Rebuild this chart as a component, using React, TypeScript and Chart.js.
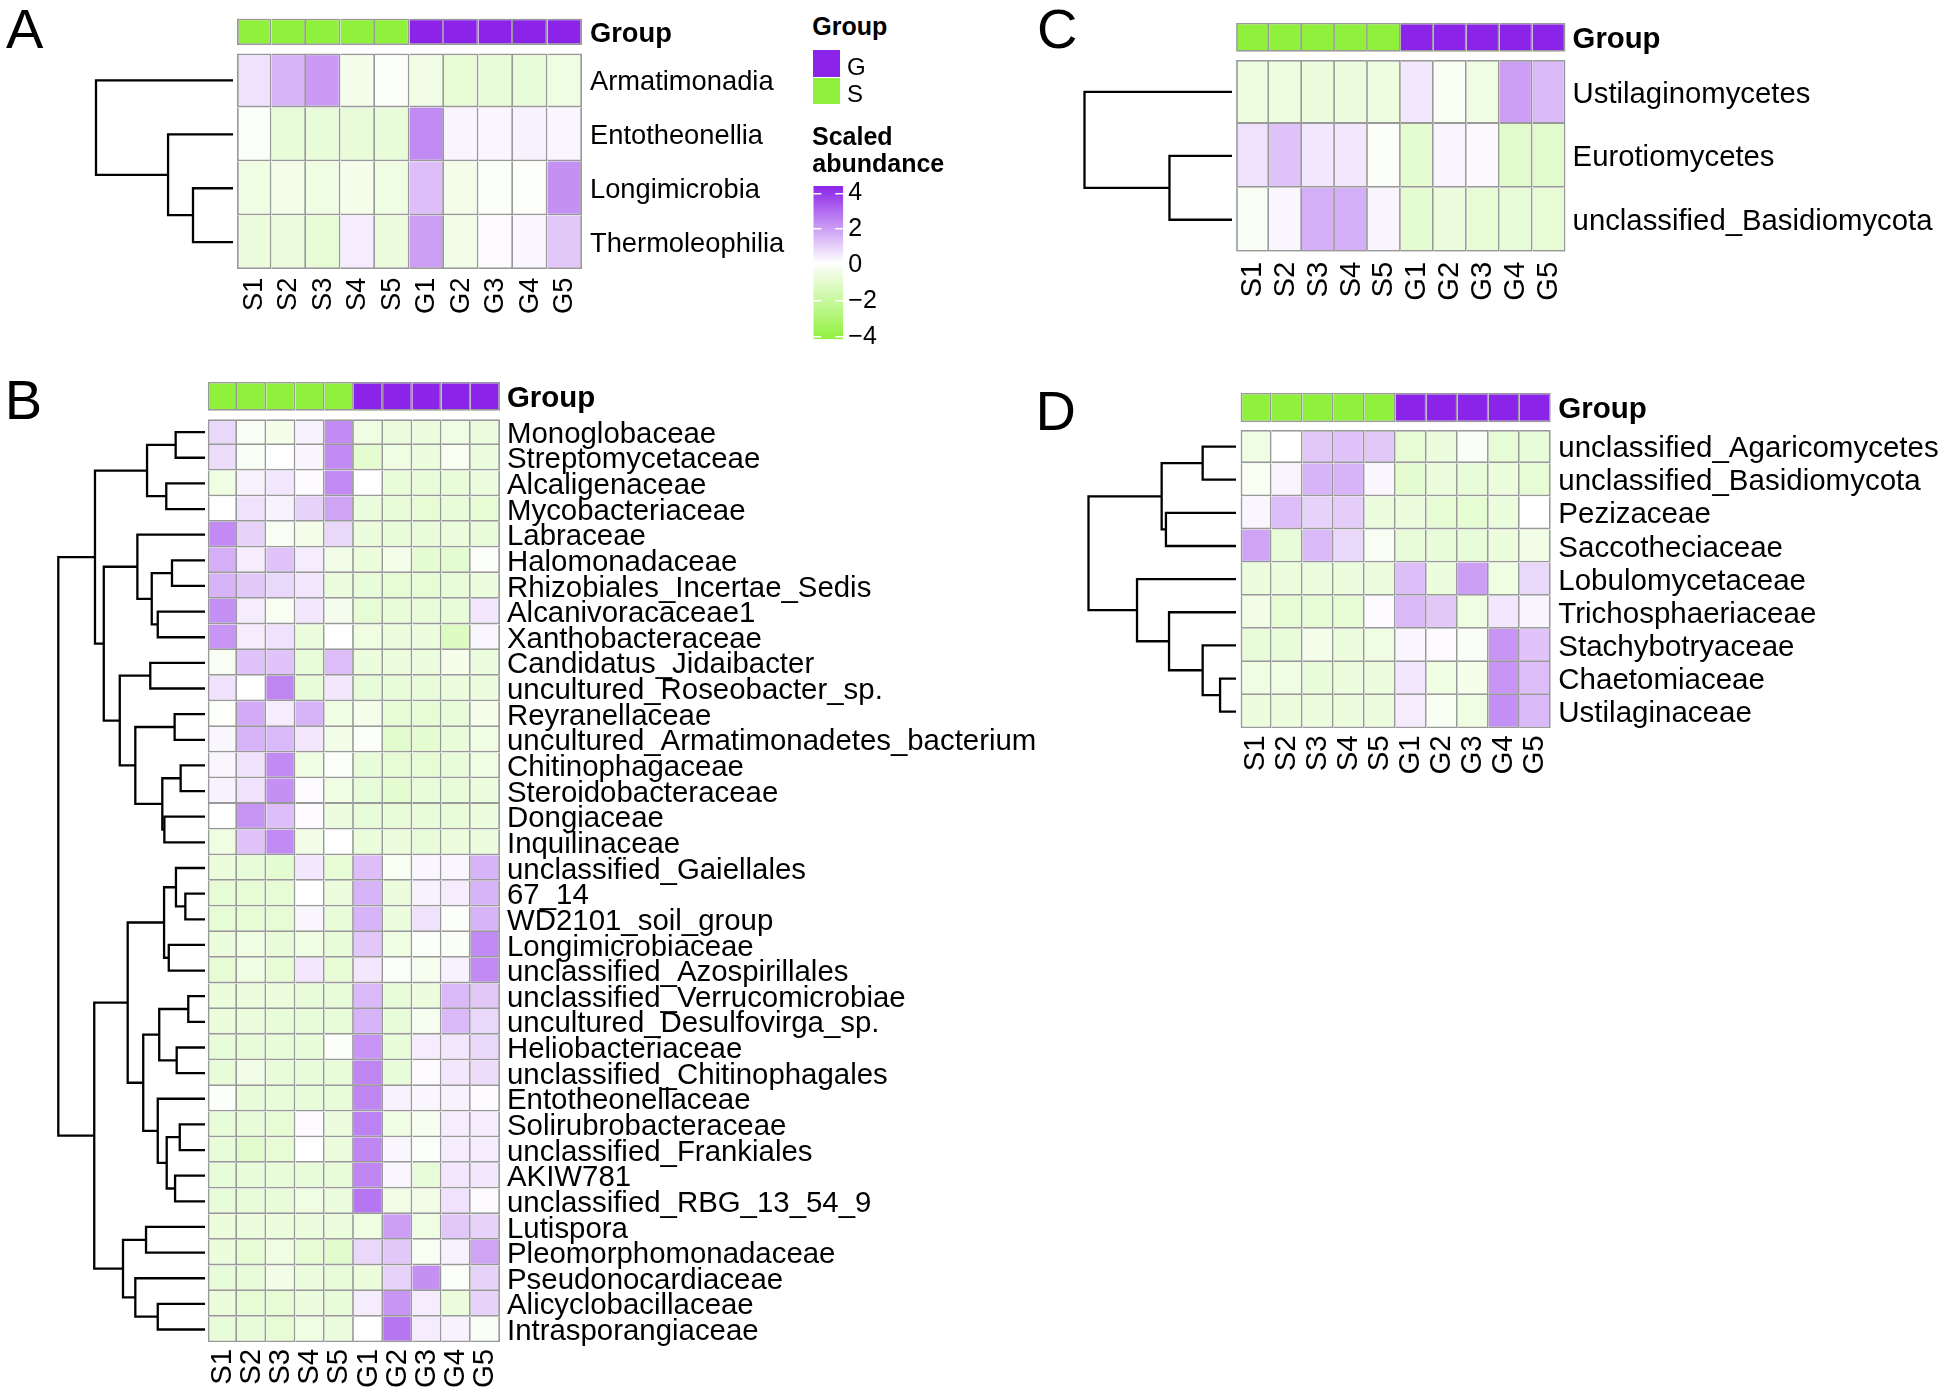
import React, { useEffect, useRef } from 'react';
import { Chart, registerables } from 'chart.js';

Chart.register(...registerables);

const FONT = "'Liberation Sans', Arial, Helvetica, sans-serif";

// ---------- data ----------
const sampleLabels = ['S1', 'S2', 'S3', 'S4', 'S5', 'G1', 'G2', 'G3', 'G4', 'G5'];
const sampleGroups = ['S', 'S', 'S', 'S', 'S', 'G', 'G', 'G', 'G', 'G'];
const groupLegend = ['G', 'S'];
const scaleRange = [-4.15, 4.41];
const legendTicks = [4, 2, 0, -2, -4];

const rowsA = ['Armatimonadia', 'Entotheonellia', 'Longimicrobia', 'Thermoleophilia'];
const valuesA = [
  [0.7, 1.6, 2.1, -0.3, 0.0, -0.4, -0.8, -0.7, -0.7, -0.5],
  [0.0, -0.7, -0.7, -0.7, -0.7, 2.4, 0.35, 0.3, 0.4, 0.3],
  [-0.5, -0.35, -0.5, -0.3, -0.5, 1.4, -0.35, 0.0, 0.05, 2.3],
  [-0.6, -0.6, -0.8, 0.5, -0.6, 2.0, -0.4, 0.2, 0.3, 1.2],
];
const treeA = [[-3, -4, 0.292], [-2, 1, 0.474], [-1, 2, 1.0]];

const rowsB = [
  'Monoglobaceae', 'Streptomycetaceae', 'Alcaligenaceae', 'Mycobacteriaceae', 'Labraceae',
  'Halomonadaceae', 'Rhizobiales_Incertae_Sedis', 'Alcanivoracaceae1', 'Xanthobacteraceae',
  'Candidatus_Jidaibacter', 'uncultured_Roseobacter_sp.', 'Reyranellaceae',
  'uncultured_Armatimonadetes_bacterium', 'Chitinophagaceae', 'Steroidobacteraceae', 'Dongiaceae',
  'Inquilinaceae', 'unclassified_Gaiellales', '67_14', 'WD2101_soil_group', 'Longimicrobiaceae',
  'unclassified_Azospirillales', 'unclassified_Verrucomicrobiae', 'uncultured_Desulfovirga_sp.',
  'Heliobacteriaceae', 'unclassified_Chitinophagales', 'Entotheonellaceae', 'Solirubrobacteraceae',
  'unclassified_Frankiales', 'AKIW781', 'unclassified_RBG_13_54_9', 'Lutispora',
  'Pleomorphomonadaceae', 'Pseudonocardiaceae', 'Alicyclobacillaceae', 'Intrasporangiaceae',
];
const valuesB = [
  [0.9, -0.1, -0.3, 0.4, 2.4, -0.5, -0.6, -0.6, -0.5, -0.6],
  [0.8, -0.1, 0.15, 0.35, 2.4, -0.9, -0.5, -0.6, -0.15, -0.6],
  [-0.5, 0.4, 0.6, 0.2, 2.4, 0.1, -0.7, -0.7, -0.7, -0.6],
  [0.15, 0.7, 0.4, 1.0, 1.9, -0.6, -0.7, -0.8, -0.7, -0.8],
  [2.4, 1.0, -0.1, -0.3, 0.9, -0.6, -0.7, -0.7, -0.6, -0.7],
  [1.7, 0.5, 1.3, 0.5, -0.4, -0.6, -0.3, -0.9, -0.9, 0.0],
  [1.6, 1.2, 0.9, 0.6, -0.6, -0.7, -0.8, -0.8, -0.7, -0.6],
  [2.3, 0.5, -0.15, 0.6, -0.25, -0.8, -0.7, -0.7, -0.7, 0.6],
  [2.2, 0.5, 0.7, -0.6, 0.15, -0.5, -0.6, -0.6, -1.2, 0.3],
  [-0.1, 1.3, 1.3, -0.7, 1.4, -0.6, -0.6, -0.6, -0.3, -0.6],
  [0.7, 0.15, 2.5, -0.7, 0.6, -0.7, -0.7, -0.7, -0.6, -0.6],
  [0.05, 1.8, 0.5, 1.6, -0.5, -0.3, -0.8, -0.8, -0.7, -0.3],
  [0.3, 1.6, 1.5, 0.6, -0.4, 0.0, -1.0, -0.9, -0.7, -0.5],
  [0.3, 0.7, 2.4, -0.5, 0.0, -0.7, -0.8, -0.8, -0.7, -0.5],
  [0.4, 0.7, 2.3, 0.2, -0.5, -0.7, -0.9, -0.7, -0.7, -0.6],
  [0.1, 2.2, 1.4, 0.2, -0.6, -0.7, -0.7, -0.7, -0.7, -0.6],
  [-0.5, 1.3, 2.4, -0.4, 0.15, -0.6, -0.6, -0.7, -0.6, -0.6],
  [-0.6, -0.7, -0.9, 0.6, -0.8, 1.4, -0.15, 0.3, 0.3, 1.6],
  [-0.8, -0.8, -0.8, 0.1, -0.6, 1.6, -0.6, 0.4, 0.5, 1.6],
  [-0.8, -0.8, -0.8, 0.3, -0.7, 1.6, -0.6, 0.7, 0.0, 1.6],
  [-0.6, -0.5, -0.7, -0.5, -0.7, 1.2, -0.5, 0.0, -0.05, 2.4],
  [-0.8, -0.5, -0.8, 0.6, -0.8, 0.6, 0.0, -0.2, 0.4, 2.4],
  [-0.6, -0.6, -0.6, -0.7, -0.7, 1.5, -0.7, -0.6, 1.5, 1.2],
  [-0.6, -0.6, -0.7, -0.7, -0.7, 1.6, -0.7, -0.2, 1.5, 0.9],
  [-0.7, -0.7, -0.7, -0.7, 0.0, 2.2, -0.7, 0.5, 0.6, 0.9],
  [-0.7, -0.4, -0.7, -0.7, -0.7, 2.5, -0.7, 0.2, 0.6, 0.8],
  [0.0, -0.7, -0.7, -0.7, -0.7, 2.5, 0.4, 0.3, 0.4, 0.2],
  [-0.7, -0.7, -0.8, 0.2, -0.6, 2.6, -0.5, -0.2, 0.5, 0.5],
  [-0.7, -1.0, -0.8, 0.15, -0.6, 2.5, 0.3, 0.0, 0.5, 0.5],
  [-0.7, -0.7, -0.7, -0.7, -0.7, 2.5, 0.3, -0.7, 0.6, 0.6],
  [-0.7, -0.7, -0.7, -0.5, -0.6, 2.8, -0.4, -0.4, 0.7, 0.2],
  [-0.6, -0.6, -0.6, -0.6, -0.6, -0.5, 2.0, -0.5, 1.2, 1.0],
  [-0.6, -0.8, -0.5, -0.8, -1.0, 0.9, 1.2, -0.15, 0.4, 1.9],
  [-0.7, -0.7, -0.4, -0.6, -0.7, -0.6, 1.0, 2.3, 0.0, 1.0],
  [-0.6, -0.8, -0.8, -0.6, -0.7, 0.5, 2.2, 0.5, -0.6, 1.0],
  [-0.7, -0.7, -0.8, -0.5, -0.6, 0.15, 2.8, 0.5, 0.4, -0.1],
];
const treeB = [
  [-1, -2, 0.2], [-3, -4, 0.264], [1, 2, 0.395], [-6, -7, 0.225], [-8, -9, 0.322],
  [4, 5, 0.363], [-5, 6, 0.461], [-10, -11, 0.373], [-12, -13, 0.207], [-14, -15, 0.166],
  [-16, -17, 0.277], [10, 11, 0.291], [9, 12, 0.475], [8, 13, 0.581], [7, 14, 0.69],
  [3, 15, 0.75], [-19, -20, 0.134], [-18, 17, 0.198], [-21, -22, 0.247], [18, 19, 0.279],
  [-23, -24, 0.114], [-25, -26, 0.193], [21, 22, 0.312], [-28, -29, 0.172], [-30, -31, 0.204],
  [24, 25, 0.261], [-27, 26, 0.322], [23, 27, 0.421], [20, 28, 0.527], [-32, -33, 0.402],
  [-35, -36, 0.322], [-34, 31, 0.475], [30, 32, 0.559], [29, 33, 0.755], [16, 34, 1.0],
];

const rowsC = ['Ustilaginomycetes', 'Eurotiomycetes', 'unclassified_Basidiomycota'];
const valuesC = [
  [-0.55, -0.55, -0.6, -0.6, -0.55, 0.6, -0.15, -0.5, 2.0, 1.5],
  [0.7, 1.3, 0.6, 0.6, 0.0, -0.9, 0.35, 0.25, -1.0, -1.0],
  [-0.1, 0.3, 1.7, 1.7, 0.35, -0.9, -0.6, -0.8, -0.7, -0.8],
];
const treeC = [[-2, -3, 0.424], [-1, 1, 1.0]];

const rowsD = [
  'unclassified_Agaricomycetes', 'unclassified_Basidiomycota', 'Pezizaceae', 'Saccotheciaceae',
  'Lobulomycetaceae', 'Trichosphaeriaceae', 'Stachybotryaceae', 'Chaetomiaceae', 'Ustilaginaceae',
];
const valuesD = [
  [-0.5, 0.1, 1.2, 1.3, 1.2, -0.8, -0.6, -0.05, -0.8, -0.7],
  [-0.15, 0.35, 1.6, 1.6, 0.3, -0.9, -0.6, -0.7, -0.6, -0.8],
  [0.3, 1.4, 1.0, 1.1, -0.6, -0.6, -0.8, -0.85, -0.6, 0.1],
  [1.9, -0.7, 1.5, 0.9, -0.1, -0.7, -0.7, -0.7, -0.6, -0.4],
  [-0.6, -0.6, -0.6, -0.6, -0.6, 1.4, -0.6, 2.0, -0.5, 0.9],
  [-0.4, -0.8, -0.8, -0.8, 0.2, 1.5, 1.2, -0.5, 0.6, 0.35],
  [-0.7, -0.7, -0.3, -0.6, -0.5, 0.3, 0.2, -0.05, 2.2, 1.3],
  [-0.5, -0.5, -0.7, -0.6, -0.6, 0.6, -0.5, -0.3, 2.2, 1.4],
  [-0.6, -0.6, -0.6, -0.6, -0.6, 0.5, -0.15, -0.5, 2.3, 1.5],
];
const treeD = [
  [-1, -2, 0.226], [-3, -4, 0.475], [1, 2, 0.504], [-8, -9, 0.108],
  [-7, 4, 0.226], [-6, 5, 0.454], [-5, 6, 0.671], [3, 7, 1.0],
];

// ---------- styling / layout ----------
const LOW = [144, 241, 60];
const MID = [255, 255, 255];
const HIGH = [139, 36, 232];
const rgb = (c: number[]) => `rgb(${c.map((v) => Math.round(v)).join(',')})`;
const groupColors: Record<string, string> = { S: rgb(LOW), G: rgb(HIGH) };
const CELL_BORDER = '#999999';
const BW = 1.8;

function cellColor(v: number) {
  const t = Math.max(0, Math.min(1, (v - scaleRange[0]) / (scaleRange[1] - scaleRange[0])));
  const lerp = (a: number[], b: number[], s: number) => a.map((x, i) => x + (b[i] - x) * s);
  return rgb(t < 0.5 ? lerp(LOW, MID, t / 0.5) : lerp(MID, HIGH, (t - 0.5) / 0.5));
}

const geoA = { rootX: 96, leafX: 233, heatLeft: 237, cellW: 34.5, groupTop: 18.5, groupH: 26.5, gap: 8.5, cellH: 53.9, font: 27.3, rowPad: 8, colPad: 8.5, yAxisW: 215, xAxisH: 60 };
const geoB = { rootX: 58.3, leafX: 205, heatLeft: 207.8, cellW: 29.22, groupTop: 381.7, groupH: 29, gap: 8.6, cellH: 25.64, font: 29.4, rowPad: 7, colPad: 6.5, yAxisW: 580, xAxisH: 48 };
const geoC = { rootX: 1084.5, leafX: 1232, heatLeft: 1236.1, cellW: 32.95, groupTop: 22.7, groupH: 29, gap: 8.3, cellH: 63.9, font: 29.3, rowPad: 7, colPad: 10, yAxisW: 375, xAxisH: 60 };
const geoD = { rootX: 1088.5, leafX: 1236, heatLeft: 1240.6, cellW: 31.02, groupTop: 392.7, groupH: 29.6, gap: 7.7, cellH: 33.14, font: 29.5, rowPad: 7.5, colPad: 7, yAxisW: 394, xAxisH: 55 };

function dendroSets(tree: number[][], toX: (h: number) => number) {
  const nodes: { h: number; y: number }[] = [];
  const node = (k: number) => (k < 0 ? { h: 0, y: -k - 0.5 } : nodes[k - 1]);
  return tree.map(([a, b, h]) => {
    const A = node(a);
    const B = node(b);
    nodes.push({ h, y: (A.y + B.y) / 2 });
    return {
      type: 'line',
      data: [
        { x: toX(A.h), y: A.y },
        { x: toX(h), y: A.y },
        { x: toX(h), y: B.y },
        { x: toX(B.h), y: B.y },
      ],
      borderColor: '#000',
      borderWidth: 2.3,
      pointRadius: 0,
      pointHoverRadius: 0,
      fill: false,
      tension: 0,
      borderJoinStyle: 'miter',
      borderCapStyle: 'butt',
    };
  });
}

function HeatmapPanel({ rows, values, tree, geo }: any) {
  const ref = useRef<HTMLCanvasElement | null>(null);
  const nCols = sampleLabels.length;
  const heatRight = geo.heatLeft + nCols * geo.cellW;
  const heatBottom = geo.groupTop + geo.groupH + geo.gap + rows.length * geo.cellH;
  const chartLeft = geo.rootX - 2;
  const CL = Math.floor(chartLeft - 2);
  const CT = Math.floor(geo.groupTop - 2);
  const W = Math.ceil(heatRight - CL) + geo.yAxisW;
  const H = Math.ceil(heatBottom - CT) + geo.xAxisH;

  useEffect(() => {
    if (!ref.current) return;
    const gTop = -(geo.gap + geo.groupH) / geo.cellH;
    const gBot = -geo.gap / geo.cellH;
    const toX = (h: number) => (geo.leafX - h * (geo.leafX - geo.rootX) - geo.heatLeft) / geo.cellW;

    const cellSets = values.map((rowVals: number[], r: number) => ({
      type: 'bar',
      data: rowVals.map((_, c) => ({ x: c + 0.5, y: [r, r + 1] })),
      backgroundColor: rowVals.map(cellColor),
      borderColor: CELL_BORDER,
      borderWidth: rowVals.map((_, c) => ({ top: r === 0 ? BW : 0, left: c === 0 ? BW : 0, right: BW, bottom: BW })),
      borderSkipped: false,
      inflateAmount: 0,
      grouped: false,
      barPercentage: 1,
      categoryPercentage: 1,
    }));
    const groupSet = {
      type: 'bar',
      data: sampleGroups.map((_, c) => ({ x: c + 0.5, y: [gTop, gBot] })),
      backgroundColor: sampleGroups.map((g) => groupColors[g]),
      borderColor: CELL_BORDER,
      borderWidth: sampleGroups.map((_, c) => ({ top: BW, left: c === 0 ? BW : 0, right: BW, bottom: BW })),
      borderSkipped: false,
      inflateAmount: 0,
      grouped: false,
      barPercentage: 1,
      categoryPercentage: 1,
    };
    const yTicks = [(gTop + gBot) / 2, ...rows.map((_: string, i: number) => i + 0.5)];

    const chart = new Chart(ref.current, {
      type: 'bar',
      data: { datasets: [groupSet, ...cellSets, ...dendroSets(tree, toX)] as any },
      options: {
        responsive: false,
        animation: false,
        devicePixelRatio: 1,
        events: [],
        layout: {
          autoPadding: false,
          padding: {
            left: chartLeft - CL,
            top: geo.groupTop - CT,
            right: W - geo.yAxisW - (heatRight - CL),
            bottom: H - geo.xAxisH - (heatBottom - CT),
          },
        },
        plugins: { legend: { display: false }, tooltip: { enabled: false }, title: { display: false } },
        scales: {
          x: {
            type: 'linear',
            position: 'bottom',
            offset: false,
            bounds: 'data',
            min: (chartLeft - geo.heatLeft) / geo.cellW,
            max: nCols,
            grid: { display: false, drawTicks: false, offset: false },
            border: { display: false },
            ticks: {
              autoSkip: false,
              minRotation: 90,
              maxRotation: 90,
              padding: geo.colPad,
              color: '#000',
              font: { family: FONT, size: geo.font },
              callback: (_v: any, i: number) => sampleLabels[i],
            },
            afterBuildTicks: (s: any) => {
              s.ticks = sampleLabels.map((_, i) => ({ value: i + 0.5 }));
            },
            afterFit: (s: any) => {
              s.height = geo.xAxisH;
              s.paddingLeft = 0;
              s.paddingRight = 0;
            },
          },
          y: {
            type: 'linear',
            position: 'right',
            reverse: true,
            offset: false,
            bounds: 'data',
            beginAtZero: false,
            min: gTop,
            max: rows.length,
            grid: { display: false, drawTicks: false },
            border: { display: false },
            ticks: {
              autoSkip: false,
              padding: geo.rowPad,
              labelOffset: 2.5,
              color: '#000',
              font: (ctx: any) => ({ family: FONT, size: geo.font, weight: ctx.index === 0 ? 'bold' : 'normal' }),
              callback: (_v: any, i: number) => (i === 0 ? 'Group' : rows[i - 1]),
            },
            afterBuildTicks: (s: any) => {
              s.ticks = yTicks.map((v) => ({ value: v }));
            },
            afterFit: (s: any) => {
              s.width = geo.yAxisW;
              s.paddingTop = 0;
              s.paddingBottom = 0;
            },
          },
        },
      } as any,
    });
    return () => chart.destroy();
  }, []);

  return (
    <canvas
      ref={ref}
      width={W}
      height={H}
      style={{ position: 'absolute', left: CL, top: CT, width: W, height: H }}
    />
  );
}

function ColorLegend() {
  const ref = useRef<HTMLCanvasElement | null>(null);
  const g = { left: 813.3, right: 843.3, top: 186, bottom: 339.3, axisW: 50 };
  const CL = 806;
  const CT = 176;
  const W = Math.ceil(g.right - CL) + g.axisW;
  const H = Math.ceil(g.bottom - CT) + 26;

  useEffect(() => {
    if (!ref.current) return;
    const chart = new Chart(ref.current, {
      type: 'bar',
      data: {
        labels: [''],
        datasets: [
          {
            data: [[scaleRange[0], scaleRange[1]]],
            backgroundColor: (ctx: any) => {
              const ch = ctx.chart;
              const a = ch.chartArea;
              if (!a) return '#fff';
              const grad = ch.ctx.createLinearGradient(0, a.bottom, 0, a.top);
              grad.addColorStop(0, rgb(LOW));
              grad.addColorStop(0.5, rgb(MID));
              grad.addColorStop(1, rgb(HIGH));
              return grad;
            },
            borderWidth: 0,
            inflateAmount: 0,
            barPercentage: 1,
            categoryPercentage: 1,
          },
        ],
      } as any,
      options: {
        responsive: false,
        animation: false,
        devicePixelRatio: 1,
        events: [],
        layout: {
          autoPadding: false,
          padding: {
            left: g.left - CL,
            top: g.top - CT,
            right: W - g.axisW - (g.right - CL),
            bottom: H - (g.bottom - CT),
          },
        },
        plugins: { legend: { display: false }, tooltip: { enabled: false } },
        scales: {
          x: { type: 'category', display: false },
          y: {
            type: 'linear',
            position: 'right',
            min: scaleRange[0],
            max: scaleRange[1],
            bounds: 'data',
            beginAtZero: false,
            grid: { display: true, drawTicks: false, color: '#ffffff', lineWidth: 1.5, z: 1 },
            border: { display: false, dash: [8, 14] },
            ticks: {
              padding: 5,
              color: '#000',
              font: { family: FONT, size: 25 },
              callback: (v: number) => (v < 0 ? '\u2212' + Math.abs(v) : String(v)),
            },
            afterBuildTicks: (s: any) => {
              s.ticks = legendTicks.map((v) => ({ value: v }));
            },
            afterFit: (s: any) => {
              s.width = g.axisW;
              s.paddingTop = 0;
              s.paddingBottom = 0;
            },
          },
        },
      } as any,
    });
    return () => chart.destroy();
  }, []);

  return (
    <canvas
      ref={ref}
      width={W}
      height={H}
      style={{ position: 'absolute', left: CL, top: CT, width: W, height: H }}
    />
  );
}

function Txt({ x, base, size, bold, children }: any) {
  return (
    <span
      style={{
        position: 'absolute',
        left: x,
        top: base - 0.8465 * size,
        fontFamily: FONT,
        fontSize: size,
        lineHeight: `${size}px`,
        fontWeight: bold ? 'bold' : 'normal',
        whiteSpace: 'nowrap',
        color: '#000',
      }}
    >
      {children}
    </span>
  );
}

export default function App() {
  useEffect(() => {
    document.body.style.margin = '0';
    document.body.style.overflow = 'hidden';
  }, []);
  return (
    <div
      style={{
        position: 'absolute',
        left: 0,
        top: 0,
        width: 1946,
        height: 1395,
        background: '#fff',
        overflow: 'hidden',
        fontFamily: FONT,
      }}
    >
      <HeatmapPanel rows={rowsA} values={valuesA} tree={treeA} geo={geoA} />
      <HeatmapPanel rows={rowsB} values={valuesB} tree={treeB} geo={geoB} />
      <HeatmapPanel rows={rowsC} values={valuesC} tree={treeC} geo={geoC} />
      <HeatmapPanel rows={rowsD} values={valuesD} tree={treeD} geo={geoD} />
      <ColorLegend />

      <Txt x={6} base={48.5} size={56}>A</Txt>
      <Txt x={4.7} base={419.5} size={56}>B</Txt>
      <Txt x={1037} base={48.5} size={56}>C</Txt>
      <Txt x={1035.6} base={430} size={56}>D</Txt>

      <Txt x={812.3} base={35} size={25} bold>Group</Txt>
      {groupLegend.map((gname, i) => (
        <div
          key={gname}
          style={{
            position: 'absolute',
            left: 813,
            top: 50 + i * 27.7,
            width: 27,
            height: 26.5,
            background: groupColors[gname],
          }}
        />
      ))}
      {groupLegend.map((gname, i) => (
        <Txt key={'t' + gname} x={847} base={75.2 + i * 27} size={24}>{gname}</Txt>
      ))}
      <Txt x={812} base={145} size={25} bold>Scaled</Txt>
      <Txt x={812.3} base={171.7} size={25} bold>abundance</Txt>
    </div>
  );
}
